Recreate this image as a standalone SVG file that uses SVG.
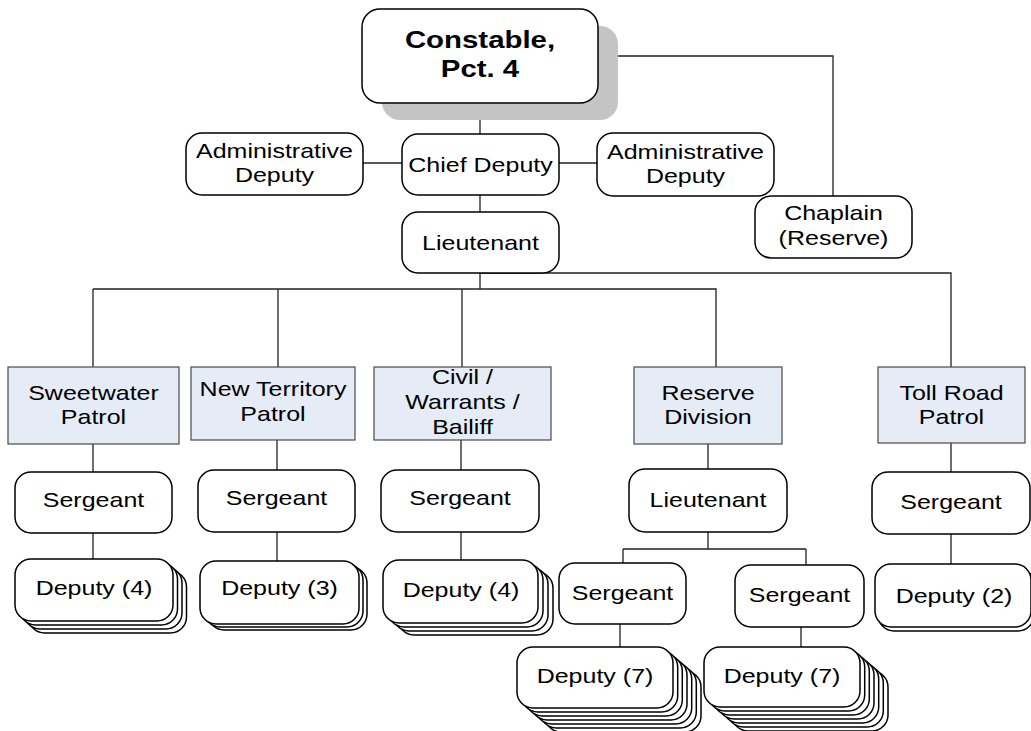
<svg xmlns="http://www.w3.org/2000/svg" width="1031" height="731" viewBox="0 0 1031 731">
  <style>
    text { font-family: "Liberation Sans", Arial, sans-serif; font-size: 20.5px; fill: #000; text-anchor: middle; }
    .title { font-size: 24.5px; font-weight: bold; }
    .node { fill: #fff; stroke: #000; stroke-width: 1.5; }
    .dept { fill: #e6ecf6; stroke: #4a4a4a; stroke-width: 1.2; }
    .shadow { fill: #c4c4c4; }
    .link { fill: none; stroke: #222; stroke-width: 1.3; }
  </style>
  <defs>
    <rect id="card" class="node" x="0" y="0" width="157" height="61" rx="16"/>
  </defs>
  <rect width="1031" height="731" fill="#fff"/>

  <!-- connectors -->
  <g id="connectors" class="link">
    <path d="M480,103 V134"/>
    <path d="M598,56 H833 V196"/>
    <path d="M363,163 H402 M559,163 H597"/>
    <path d="M480,195 V212"/>
    <path d="M480,273 H951 V367"/>
    <path d="M480,273 V289 M93,289 H716 V367"/>
    <path d="M93,289 V367 M278,289 V367 M462,289 V367"/>
    <path d="M93,444 V472 M277,440 V470 M461,440 V470 M708,444 V469 M951,443 V472"/>
    <path d="M93,533 V559 M277,532 V561 M461,532 V560 M951,534 V564"/>
    <path d="M708,532 V549 M623,549 H806 M623,549 V563 M806,549 V565"/>
    <path d="M620,624 V647 M801,627 V647"/>
  </g>

  <!-- top command -->
  <g id="constable">
    <rect class="shadow" x="382" y="26" width="236" height="94" rx="18"/>
    <rect class="node" x="362" y="9" width="236" height="94" rx="18"/>
    <text class="title" transform="translate(480,48) scale(1.2,1)">Constable,</text>
    <text class="title" transform="translate(480,77) scale(1.2,1)">Pct. 4</text>
  </g>
  <g id="admin-deputy-left">
    <rect class="node" x="186" y="133" width="177" height="62" rx="16"/>
    <text transform="translate(274.5,158) scale(1.22,1)"><tspan x="0">Administrative</tspan><tspan x="0" dy="24">Deputy</tspan></text>
  </g>
  <g id="chief-deputy">
    <rect class="node" x="402" y="134" width="157" height="61" rx="16"/>
    <text transform="translate(480.5,172) scale(1.22,1)">Chief Deputy</text>
  </g>
  <g id="admin-deputy-right">
    <rect class="node" x="597" y="133" width="177" height="63" rx="16"/>
    <text transform="translate(685.5,159) scale(1.22,1)"><tspan x="0">Administrative</tspan><tspan x="0" dy="24">Deputy</tspan></text>
  </g>
  <g id="chaplain">
    <rect class="node" x="755" y="196" width="157" height="62" rx="16"/>
    <text transform="translate(833.5,220) scale(1.22,1)"><tspan x="0">Chaplain</tspan><tspan x="0" dy="25">(Reserve)</tspan></text>
  </g>
  <g id="lieutenant">
    <rect class="node" x="402" y="212" width="157" height="61" rx="16"/>
    <text transform="translate(480.5,250) scale(1.22,1)">Lieutenant</text>
  </g>

  <!-- divisions -->
  <g id="sweetwater-patrol">
    <rect class="dept" x="8" y="367" width="171" height="77"/>
    <text transform="translate(93.5,400) scale(1.22,1)"><tspan x="0">Sweetwater</tspan><tspan x="0" dy="24">Patrol</tspan></text>
  </g>
  <g id="new-territory-patrol">
    <rect class="dept" x="191" y="367" width="164" height="73"/>
    <text transform="translate(273,396) scale(1.22,1)"><tspan x="0">New Territory</tspan><tspan x="0" dy="25">Patrol</tspan></text>
  </g>
  <g id="civil-warrants-bailiff">
    <rect class="dept" x="374" y="367" width="177" height="73"/>
    <text transform="translate(462.5,384) scale(1.22,1)"><tspan x="0">Civil /</tspan><tspan x="0" dy="25">Warrants /</tspan><tspan x="0" dy="25">Bailiff</tspan></text>
  </g>
  <g id="reserve-division">
    <rect class="dept" x="634" y="367" width="148" height="77"/>
    <text transform="translate(708,400) scale(1.22,1)"><tspan x="0">Reserve</tspan><tspan x="0" dy="24">Division</tspan></text>
  </g>
  <g id="toll-road-patrol">
    <rect class="dept" x="878" y="367" width="147" height="76"/>
    <text transform="translate(951.5,400) scale(1.22,1)"><tspan x="0">Toll Road</tspan><tspan x="0" dy="24">Patrol</tspan></text>
  </g>

  <!-- sergeants and reserve lieutenant -->
  <g id="sergeant-sweetwater">
    <rect class="node" x="15" y="472" width="157" height="61" rx="16"/>
    <text transform="translate(93.5,507) scale(1.22,1)">Sergeant</text>
  </g>
  <g id="sergeant-new-territory">
    <rect class="node" x="198" y="470" width="157" height="62" rx="16"/>
    <text transform="translate(276.5,505) scale(1.22,1)">Sergeant</text>
  </g>
  <g id="sergeant-civil">
    <rect class="node" x="381" y="470" width="158" height="62" rx="16"/>
    <text transform="translate(460,505) scale(1.22,1)">Sergeant</text>
  </g>
  <g id="lieutenant-reserve">
    <rect class="node" x="629" y="469" width="158" height="63" rx="16"/>
    <text transform="translate(708,507) scale(1.22,1)">Lieutenant</text>
  </g>
  <g id="sergeant-toll-road">
    <rect class="node" x="872" y="472" width="158" height="62" rx="16"/>
    <text transform="translate(951,509) scale(1.22,1)">Sergeant</text>
  </g>
  <g id="sergeant-reserve-a">
    <rect class="node" x="559" y="563" width="127" height="61" rx="16"/>
    <text transform="translate(622.5,600) scale(1.22,1)">Sergeant</text>
  </g>
  <g id="sergeant-reserve-b">
    <rect class="node" x="735" y="565" width="129" height="62" rx="16"/>
    <text transform="translate(799.5,602) scale(1.22,1)">Sergeant</text>
  </g>

  <!-- deputy stacks (back cards first) -->
  <g id="deputies-sweetwater">
    <rect class="node" x="28.5" y="571" width="158" height="62" rx="16"/>
    <rect class="node" x="24" y="567" width="158" height="62" rx="16"/>
    <rect class="node" x="19.5" y="563" width="158" height="62" rx="16"/>
    <rect class="node" x="15" y="559" width="158" height="62" rx="16"/>
    <text transform="translate(94,595) scale(1.22,1)">Deputy (4)</text>
  </g>
  <g id="deputies-new-territory">
    <rect class="node" x="208" y="567" width="159" height="63" rx="16"/>
    <rect class="node" x="204" y="564" width="159" height="63" rx="16"/>
    <rect class="node" x="200" y="561" width="159" height="63" rx="16"/>
    <text transform="translate(279.5,595) scale(1.22,1)">Deputy (3)</text>
  </g>
  <g id="deputies-civil">
    <rect class="node" x="398" y="572" width="155" height="63" rx="16"/>
    <rect class="node" x="393" y="568" width="155" height="63" rx="16"/>
    <rect class="node" x="388" y="564" width="155" height="63" rx="16"/>
    <rect class="node" x="383" y="560" width="155" height="63" rx="16"/>
    <text transform="translate(461,597) scale(1.22,1)">Deputy (4)</text>
  </g>
  <g id="deputies-reserve-a">
    <rect class="node" x="545" y="671" width="156" height="61" rx="16"/>
    <rect class="node" x="540.3" y="667" width="156" height="61" rx="16"/>
    <rect class="node" x="535.7" y="663" width="156" height="61" rx="16"/>
    <rect class="node" x="531" y="659" width="156" height="61" rx="16"/>
    <rect class="node" x="526.3" y="655" width="156" height="61" rx="16"/>
    <rect class="node" x="521.7" y="651" width="156" height="61" rx="16"/>
    <rect class="node" x="517" y="647" width="156" height="61" rx="16"/>
    <text transform="translate(595,683) scale(1.22,1)">Deputy (7)</text>
  </g>
  <g id="deputies-reserve-b">
    <rect class="node" x="732" y="671" width="156" height="60" rx="16"/>
    <rect class="node" x="727.3" y="667" width="156" height="60" rx="16"/>
    <rect class="node" x="722.7" y="663" width="156" height="60" rx="16"/>
    <rect class="node" x="718" y="659" width="156" height="60" rx="16"/>
    <rect class="node" x="713.3" y="655" width="156" height="60" rx="16"/>
    <rect class="node" x="708.7" y="651" width="156" height="60" rx="16"/>
    <rect class="node" x="704" y="647" width="156" height="60" rx="16"/>
    <text transform="translate(782,683) scale(1.22,1)">Deputy (7)</text>
  </g>
  <g id="deputies-toll-road">
    <rect class="node" x="878" y="568" width="156" height="63" rx="16"/>
    <rect class="node" x="875" y="564" width="156" height="63" rx="16"/>
    <text transform="translate(954,603) scale(1.22,1)">Deputy (2)</text>
  </g>
</svg>
